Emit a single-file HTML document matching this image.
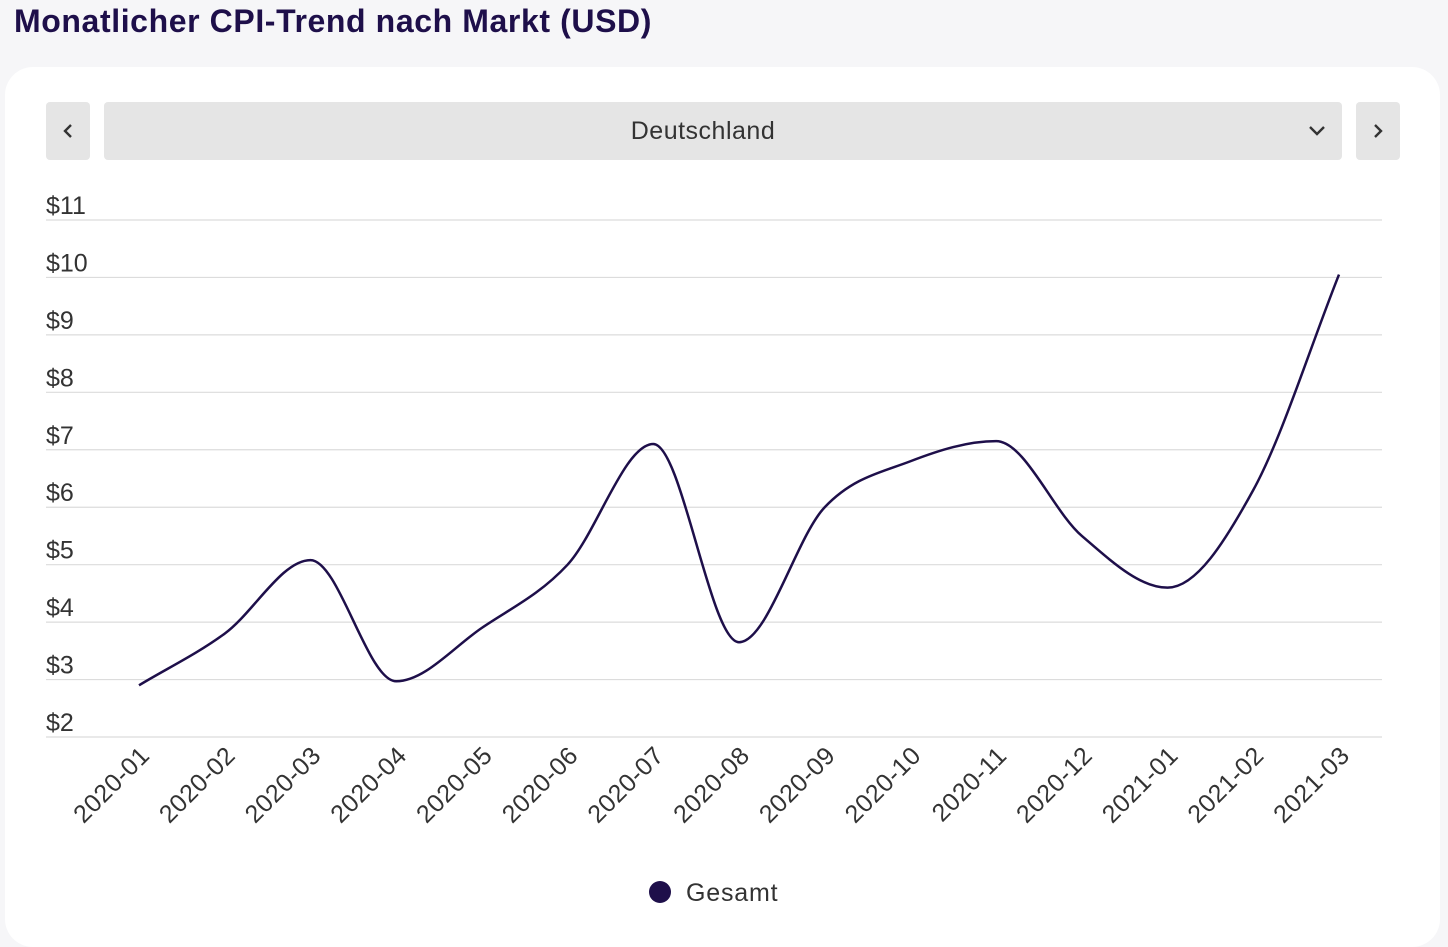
<!DOCTYPE html>
<html><head><meta charset="utf-8">
<style>
body{margin:0;width:1448px;height:938px;background:#f6f6f8;font-family:"Liberation Sans",sans-serif;overflow:hidden;position:relative}
#title{position:absolute;left:14px;top:3px;font-size:32px;font-weight:bold;color:#1e0f4a;margin:0;letter-spacing:0.6px}
#card{position:absolute;left:5px;top:67px;width:1435px;height:880px;background:#fff;border-radius:28px}
.btn{position:absolute;top:102px;height:58px;background:#e5e5e5;border-radius:4px;color:#333;font-size:22px;display:flex;align-items:center;justify-content:center;box-sizing:border-box}
</style></head><body>
<h1 id="title">Monatlicher CPI-Trend nach Markt (USD)</h1>
<div id="card"></div>
<div class="btn" style="left:46px;width:44px"><svg width="14" height="16"><path d="M10 2 L4 8 L10 14" stroke="#333" stroke-width="2.4" fill="none"/></svg></div>
<div class="btn" style="left:104px;width:1238px;font-size:25px;padding-right:40px;letter-spacing:0.5px">Deutschland
<svg style="position:absolute;right:16px;top:22px" width="18" height="14"><path d="M2 3 L9 10 L16 3" stroke="#333" stroke-width="2.4" fill="none"/></svg></div>
<div class="btn" style="left:1356px;width:44px"><svg width="14" height="16"><path d="M4 2 L10 8 L4 14" stroke="#333" stroke-width="2.4" fill="none"/></svg></div>
<svg id="chart" width="1448" height="938" style="position:absolute;left:0;top:0"></svg>
<script>
const categories=["2020-01","2020-02","2020-03","2020-04","2020-05","2020-06","2020-07","2020-08","2020-09","2020-10","2020-11","2020-12","2021-01","2021-02","2021-03"];
const values=[2.9,3.8,5.08,2.97,3.9,5.0,7.1,3.65,6.0,6.8,7.15,5.5,4.6,6.3,10.05];
const yTicks=[2,3,4,5,6,7,8,9,10,11];
const yTickLabels=["$2","$3","$4","$5","$6","$7","$8","$9","$10","$11"];
const svg=document.getElementById('chart');const NS="http://www.w3.org/2000/svg";
const x=i=>139+i*(1339-139)/(categories.length-1);
const y=v=>737-(v-2)*(737-220)/9;
function mk(t,a){const e=document.createElementNS(NS,t);for(const k in a)e.setAttribute(k,a[k]);svg.appendChild(e);return e;}
yTicks.forEach((t,i)=>{const l=mk('line',{x1:46,x2:1382,y1:y(t),y2:y(t),stroke:'#dcdcdc','stroke-width':1.2});

const tx=mk('text',{x:46,y:y(t)-6,'font-size':25,fill:'#333'});tx.textContent=yTickLabels[i];
});
categories.forEach((c,i)=>{const tx=mk('text',{x:0,y:0,'font-size':25,fill:'#333','text-anchor':'end','letter-spacing':'0.5',transform:`translate(${x(i)+12},${757}) rotate(-45)`});tx.textContent=c;
});
const px=values.map((v,i)=>x(i)),py=values.map(v=>y(v)),n=values.length;
const d=[],m=[];for(let i=0;i<n-1;i++)d.push((py[i+1]-py[i])/(px[i+1]-px[i]));
for(let i=0;i<n;i++){if(i==0)m.push(d[0]);else if(i==n-1)m.push(d[n-2]);else m.push(d[i-1]*d[i]<=0?0:(d[i-1]+d[i])/2);}
for(let i=0;i<n-1;i++){if(d[i]==0){m[i]=m[i+1]=0;continue;}const a=m[i]/d[i],b=m[i+1]/d[i],s=a*a+b*b;if(s>9){const t=3/Math.sqrt(s);m[i]=t*a*d[i];m[i+1]=t*b*d[i];}}
let p=`M${px[0]},${py[0]}`;for(let i=0;i<n-1;i++){const h=(px[i+1]-px[i])/3;p+=` C${px[i]+h},${py[i]+m[i]*h} ${px[i+1]-h},${py[i+1]-m[i+1]*h} ${px[i+1]},${py[i+1]}`;}
const line=mk('path',{d:p,fill:'none',stroke:'#1e0f4a','stroke-width':2.5});

const lc=mk('circle',{cx:660,cy:892,r:11,fill:'#1e0f4a'});
const lt=mk('text',{x:686,y:901,'font-size':25,fill:'#333','letter-spacing':'0.8'});lt.textContent='Gesamt';

</script>
</body></html>
